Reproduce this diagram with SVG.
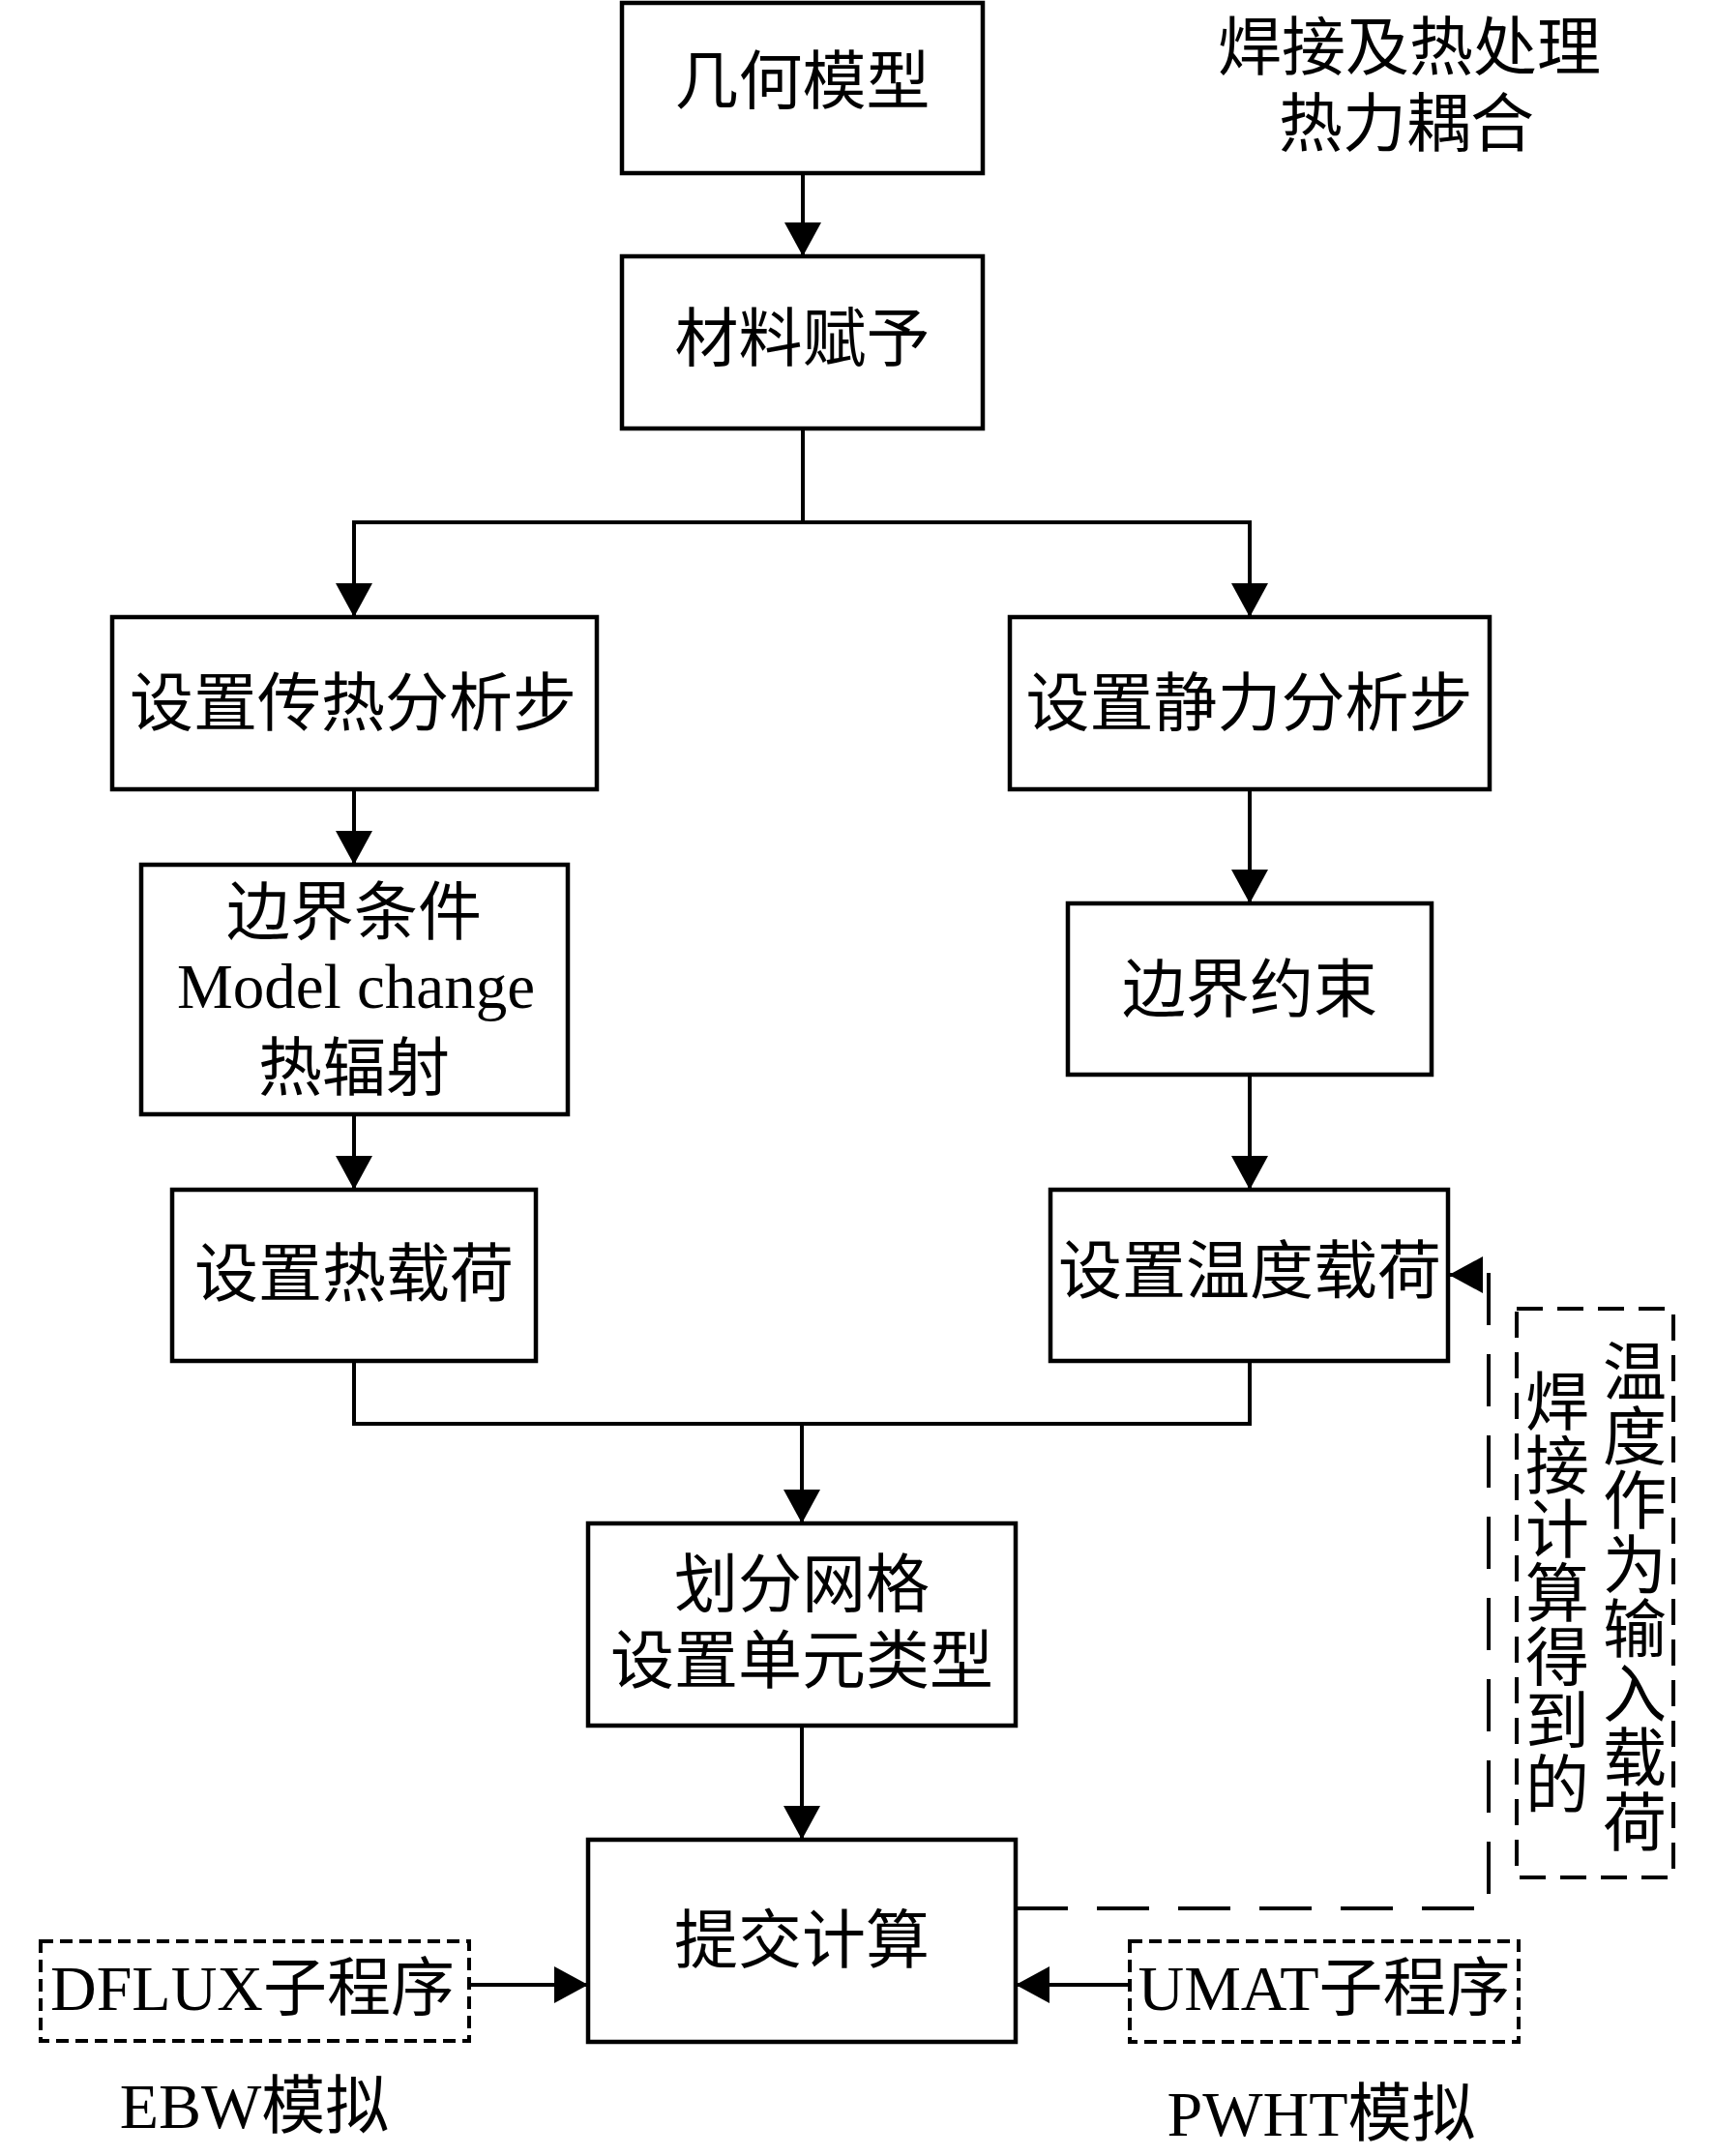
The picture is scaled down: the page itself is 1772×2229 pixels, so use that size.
<svg xmlns="http://www.w3.org/2000/svg" width="1772" height="2229" viewBox="0 0 1772 2229">
<defs>
<style>
.box{fill:#fff;stroke:#000;stroke-width:4.5}
.dbox{fill:none;stroke:#000;stroke-width:4;stroke-dasharray:13 7}
.vbox{fill:none;stroke:#000;stroke-width:4;stroke-dasharray:27 15}
.t{font-family:"Liberation Serif","Noto Sans CJK SC",serif;font-size:66px;text-anchor:middle;fill:#000}
.ln{fill:none;stroke:#000;stroke-width:4}
.dl{fill:none;stroke:#000;stroke-width:4;stroke-dasharray:54 30}
</style>
<marker id="ah" markerUnits="userSpaceOnUse" markerWidth="35" markerHeight="40" viewBox="0 0 35 40" refX="35" refY="20" orient="auto">
<path d="M0,1 L35,20 L0,39 Z" fill="#000"/>
</marker>
</defs>
<rect width="1772" height="2229" fill="#fff"/>

<g id="connectors">
<line class="ln" x1="830" y1="179" x2="830" y2="265" marker-end="url(#ah)"/>
<path class="ln" d="M830,443 V540 M366,540 H1292"/>
<line class="ln" x1="366" y1="538" x2="366" y2="638" marker-end="url(#ah)"/>
<line class="ln" x1="1292" y1="538" x2="1292" y2="638" marker-end="url(#ah)"/>
<line class="ln" x1="366" y1="816" x2="366" y2="894" marker-end="url(#ah)"/>
<line class="ln" x1="366" y1="1152" x2="366" y2="1230" marker-end="url(#ah)"/>
<line class="ln" x1="1292" y1="816" x2="1292" y2="934" marker-end="url(#ah)"/>
<line class="ln" x1="1292" y1="1111" x2="1292" y2="1230" marker-end="url(#ah)"/>
<path class="ln" d="M366,1407 V1472 H1292 V1407"/>
<line class="ln" x1="829" y1="1470" x2="829" y2="1575" marker-end="url(#ah)"/>
<line class="ln" x1="829" y1="1784" x2="829" y2="1902" marker-end="url(#ah)"/>
<line class="ln" x1="485" y1="2052" x2="608" y2="2052" marker-end="url(#ah)"/>
<line class="ln" x1="1168" y1="2052" x2="1050" y2="2052" marker-end="url(#ah)"/>
<path class="dl" d="M1050,1973 H1539 V1318 H1498" marker-end="url(#ah)"/>
</g>

<g id="node-geometry">
<rect class="box" x="643" y="3" width="373" height="176"/>
<text class="t" x="829.5" y="107">几何模型</text>
</g>
<g id="node-material">
<rect class="box" x="643" y="265" width="373" height="178"/>
<text class="t" x="829.5" y="373">材料赋予</text>
</g>
<g id="node-heat-step">
<rect class="box" x="116" y="638" width="501" height="178"/>
<text class="t" x="365" y="750">设置传热分析步</text>
</g>
<g id="node-static-step">
<rect class="box" x="1044" y="638" width="496" height="178"/>
<text class="t" x="1291.5" y="750">设置静力分析步</text>
</g>
<g id="node-boundary-cond">
<rect class="box" x="146" y="894" width="441" height="258"/>
<text class="t" x="366" y="966">边界条件</text>
<text class="t" x="368" y="1042" style="font-size:65px">Model change</text>
<text class="t" x="366" y="1127">热辐射</text>
</g>
<g id="node-constraint">
<rect class="box" x="1104" y="934" width="376" height="177"/>
<text class="t" x="1292" y="1046">边界约束</text>
</g>
<g id="node-heat-load">
<rect class="box" x="178" y="1230" width="376" height="177"/>
<text class="t" x="366" y="1340">设置热载荷</text>
</g>
<g id="node-temp-load">
<rect class="box" x="1086" y="1230" width="411" height="177"/>
<text class="t" x="1292" y="1337">设置温度载荷</text>
</g>
<g id="node-mesh">
<rect class="box" x="608" y="1575" width="442" height="209"/>
<text class="t" x="829" y="1661">划分网格</text>
<text class="t" x="829" y="1740">设置单元类型</text>
</g>
<g id="node-submit">
<rect class="box" x="608" y="1902" width="442" height="209"/>
<text class="t" x="829" y="2029">提交计算</text>
</g>
<g id="node-dflux">
<rect class="dbox" x="42" y="2007" width="443" height="103"/>
<text class="t" x="261" y="2078">DFLUX子程序</text>
</g>
<g id="node-umat">
<rect class="dbox" x="1168" y="2007" width="402" height="104"/>
<text class="t" x="1369" y="2078">UMAT子程序</text>
</g>
<g id="label-ebw">
<text class="t" x="263" y="2200">EBW模拟</text>
</g>
<g id="label-pwht">
<text class="t" x="1366" y="2208">PWHT模拟</text>
</g>
<g id="label-title">
<text class="t" x="1457" y="72">焊接及热处理</text>
<text class="t" x="1454" y="151">热力耦合</text>
</g>
<g id="node-note">
<rect class="vbox" x="1568" y="1353" width="162" height="588"/>
<text class="t"><tspan x="1610" y="1473">焊</tspan><tspan x="1610" y="1539">接</tspan><tspan x="1610" y="1605">计</tspan><tspan x="1610" y="1671">算</tspan><tspan x="1610" y="1737">得</tspan><tspan x="1610" y="1803">到</tspan><tspan x="1610" y="1869">的</tspan></text>
<text class="t"><tspan x="1690" y="1442">温</tspan><tspan x="1690" y="1509">度</tspan><tspan x="1690" y="1575">作</tspan><tspan x="1690" y="1642">为</tspan><tspan x="1690" y="1708">输</tspan><tspan x="1690" y="1775">入</tspan><tspan x="1690" y="1841">载</tspan><tspan x="1690" y="1908">荷</tspan></text>
</g>
</svg>
